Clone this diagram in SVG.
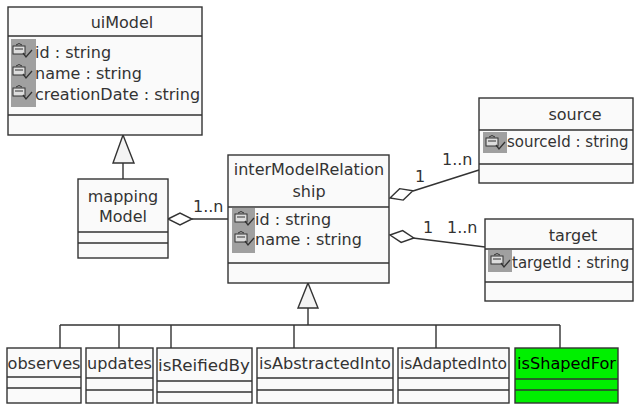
<svg xmlns="http://www.w3.org/2000/svg" xmlns:xlink="http://www.w3.org/1999/xlink" width="634" height="404" viewBox="0 0 634 404">
<style>
.box{fill:#fafafa;stroke:#333;stroke-width:1.4}
.green{fill:#00f000;stroke:#333;stroke-width:1.4}
.sep{stroke:#333;stroke-width:1.4;fill:none}
.col{fill:#a0a0a0;stroke:none}
.t{font-family:"DejaVu Sans",Verdana,sans-serif;font-size:16px;fill:#333}
.s{font-size:15px}
.c{text-anchor:middle}
.k{fill:#000}
.ln{stroke:#333;stroke-width:1.4;fill:none}
.dia{fill:#fff;stroke:#333;stroke-width:1.4}
.tri{fill:#f4f4f4;stroke:#333;stroke-width:1.4}
</style>
<defs>
<g id="ico">
<path d="M5,3 q3,-3 6,0" fill="none" stroke="#333" stroke-width="1"/>
<rect x="2" y="4" width="12" height="8" fill="#ddd" stroke="#333" stroke-width="1"/>
<path d="M4,7 h8" stroke="#333" stroke-width="1"/>
<path d="M12,11 l3,4 l6,-7" fill="none" stroke="#333" stroke-width="1.3"/>
</g>
</defs>
<rect width="634" height="404" fill="#fff"/>

<g id="connectors">
<path class="ln" d="M123,163 V179"/>
<path class="tri" d="M123,135 L134,163 L113,163 Z"/>
<path class="ln" d="M192,219 H228"/>
<path class="dia" d="M168,219 L180,213 L192,219 L180,225 Z"/>
<text class="t" x="193" y="212">1..n</text>
<path class="ln" d="M413,191 L479,170"/>
<path class="dia" transform="translate(390,198) rotate(-17.5)" d="M0,0 L12,-6 L24,0 L12,6 Z"/>
<text class="t" x="415" y="182">1</text>
<text class="t" x="442" y="165">1..n</text>
<path class="ln" d="M413,238 L485,247"/>
<path class="dia" transform="translate(390,235) rotate(7.2)" d="M0,0 L12,-6 L24,0 L12,6 Z"/>
<text class="t" x="423" y="233">1</text>
<text class="t" x="447" y="233">1..n</text>
<path class="tri" d="M308,283 L318,308 L298,308 Z"/>
<path class="ln" d="M308,308 V325 M60,325 H560 M60,325 V348 M119,325 V348 M171,325 V348 M294,325 V348 M436,325 V348 M560,325 V348"/>
</g>

<g id="uiModel">
<rect class="box" x="8" y="7" width="194" height="128"/>
<path class="sep" d="M8,36 H202 M8,115 H202"/>
<rect class="col" x="11" y="39" width="25" height="68"/>
<use xlink:href="#ico" x="11" y="42"/>
<use xlink:href="#ico" x="11" y="63"/>
<use xlink:href="#ico" x="11" y="84"/>
<text class="t c" x="122" y="28">uiModel</text>
<text class="t" x="35" y="58">id : string</text>
<text class="t" x="35" y="79">name : string</text>
<text class="t" x="35" y="100">creationDate : string</text>
</g>

<g id="mappingModel">
<rect class="box" x="78" y="179" width="90" height="79"/>
<path class="sep" d="M78,232 H168 M78,243 H168"/>
<text class="t c" x="123" y="202">mapping</text>
<text class="t c" x="123" y="222">Model</text>
</g>

<g id="interModelRelationship">
<rect class="box" x="228" y="155" width="161" height="128"/>
<path class="sep" d="M228,207 H389 M228,263 H389"/>
<rect class="col" x="232" y="208" width="23" height="45"/>
<use xlink:href="#ico" x="233" y="210"/>
<use xlink:href="#ico" x="233" y="230"/>
<text class="t c" x="309" y="175">interModelRelation</text>
<text class="t c" x="309" y="197">ship</text>
<text class="t" x="255" y="225">id : string</text>
<text class="t" x="255" y="245">name : string</text>
</g>

<g id="source">
<rect class="box" x="479" y="98" width="154" height="85"/>
<path class="sep" d="M479,130 H633 M479,164 H633"/>
<rect class="col" x="483" y="132" width="24" height="21"/>
<use xlink:href="#ico" x="484" y="134"/>
<text class="t c" x="575" y="120">source</text>
<text class="t s" x="507" y="147">sourceId : string</text>
</g>

<g id="target">
<rect class="box" x="485" y="219" width="148" height="82"/>
<path class="sep" d="M485,249 H633 M485,282 H633"/>
<rect class="col" x="488" y="250" width="24" height="22"/>
<use xlink:href="#ico" x="489" y="252"/>
<text class="t c" x="573" y="241">target</text>
<text class="t s" x="512" y="268">targetId : string</text>
</g>

<g id="observes">
<rect class="box" x="7" y="348" width="74" height="55"/>
<path class="sep" d="M7,377 H81 M7,388 H81"/>
<text class="t" x="7.5" y="369" textLength="73" lengthAdjust="spacingAndGlyphs">observes</text>
</g>
<g id="updates">
<rect class="box" x="86" y="348" width="67" height="55"/>
<path class="sep" d="M86,378 H153 M86,390 H153"/>
<text class="t" x="87" y="369" textLength="65" lengthAdjust="spacingAndGlyphs">updates</text>
</g>
<g id="isReifiedBy">
<rect class="box" x="157" y="348" width="95" height="55"/>
<path class="sep" d="M157,381 H252 M157,392 H252"/>
<text class="t" x="158" y="371" textLength="92" lengthAdjust="spacingAndGlyphs">isReifiedBy</text>
</g>
<g id="isAbstractedInto">
<rect class="box" x="257" y="348" width="136" height="55"/>
<path class="sep" d="M257,378 H393 M257,390 H393"/>
<text class="t" x="259" y="369" textLength="132" lengthAdjust="spacingAndGlyphs">isAbstractedInto</text>
</g>
<g id="isAdaptedInto">
<rect class="box" x="398" y="348" width="111" height="55"/>
<path class="sep" d="M398,378 H509 M398,390 H509"/>
<text class="t" x="400" y="369" textLength="107" lengthAdjust="spacingAndGlyphs">isAdaptedInto</text>
</g>
<g id="isShapedFor">
<rect class="green" x="515" y="348" width="103" height="55"/>
<path class="sep" d="M515,379 H618 M515,390 H618"/>
<text class="t k" x="517" y="369" textLength="99" lengthAdjust="spacingAndGlyphs">isShapedFor</text>
</g>
</svg>
